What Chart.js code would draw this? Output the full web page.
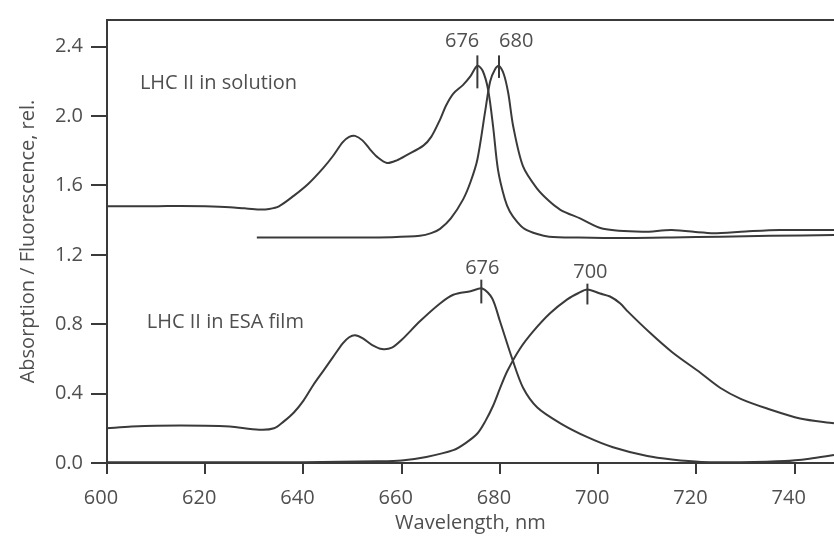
<!DOCTYPE html>
<html>
<head>
<meta charset="utf-8">
<script src="https://cdn.jsdelivr.net/npm/chart.js@4.4.1/dist/chart.umd.min.js"></script>
<style>
  html, body { margin: 0; padding: 0; background: #fff; }
  canvas { display: block; }
</style>
</head>
<body>
<canvas id="chart" width="834" height="536"></canvas>
<script>
// LHC II en solución: absorción
const absSolWl  = [600, 605, 610, 615, 620, 625, 628, 631, 633, 635, 638, 641, 644, 646, 648, 649.3, 650.5, 652, 653.5, 655, 657, 659, 661, 664.4, 666, 667.8, 669, 670.5, 672.5, 674, 675.4, 676.5, 677.6, 678.6, 679.6, 681, 682, 683.5, 685, 687.6, 690, 696, 705, 715, 725, 735, 748];
const absSolVal = [1.48, 1.48, 1.48, 1.482, 1.48, 1.475, 1.468, 1.462, 1.465, 1.48, 1.54, 1.61, 1.70, 1.77, 1.85, 1.88, 1.886, 1.86, 1.81, 1.765, 1.73, 1.745, 1.775, 1.83, 1.88, 1.98, 2.06, 2.13, 2.18, 2.23, 2.29, 2.26, 2.15, 1.94, 1.69, 1.52, 1.45, 1.39, 1.35, 1.32, 1.305, 1.30, 1.297, 1.30, 1.305, 1.31, 1.314];

// LHC II en solución: fluorescencia
const fluoSolWl  = [630.5, 640, 650, 658, 663.7, 666, 667.8, 670, 672.5, 674, 675.4, 677, 678, 679, 679.8, 680.8, 681.7, 682.7, 684.7, 687.6, 690, 692.3, 696.3, 701, 709, 715, 723, 730, 737, 748];
const fluoSolVal = [1.30, 1.30, 1.30, 1.302, 1.31, 1.325, 1.35, 1.41, 1.52, 1.62, 1.75, 2.03, 2.20, 2.27, 2.29, 2.24, 2.13, 1.94, 1.71, 1.58, 1.51, 1.46, 1.41, 1.35, 1.333, 1.343, 1.325, 1.335, 1.343, 1.343];

// LHC II en film ESA: absorción
const absFilmWl  = [600, 605, 610, 620, 625, 631, 634, 636, 638, 640, 642, 644, 646, 648, 649.3, 650.5, 652, 654, 656, 658, 660, 663.7, 667.8, 670.5, 674, 676.4, 678.4, 680, 682.5, 684.7, 687.6, 692.3, 697.8, 703, 710, 715, 721, 729, 738, 743, 748];
const absFilmVal = [0.20, 0.21, 0.215, 0.215, 0.21, 0.192, 0.20, 0.24, 0.29, 0.36, 0.45, 0.53, 0.61, 0.69, 0.725, 0.737, 0.72, 0.68, 0.657, 0.665, 0.71, 0.817, 0.92, 0.97, 0.99, 1.006, 0.95, 0.817, 0.60, 0.434, 0.32, 0.229, 0.149, 0.091, 0.04, 0.02, 0.006, 0.005, 0.011, 0.025, 0.046];

// LHC II en film ESA: fluorescencia
const fluoFilmWl  = [600, 620, 640, 655, 660, 665, 670.5, 673, 675.4, 677, 678.6, 680, 681.5, 684.1, 686.8, 690.2, 693.7, 696, 697.8, 700.4, 702.4, 704.5, 706, 710.6, 715, 720.8, 724.8, 729, 734.4, 741.1, 748];
const fluoFilmVal = [0.005, 0.005, 0.005, 0.01, 0.015, 0.035, 0.074, 0.115, 0.17, 0.24, 0.33, 0.43, 0.53, 0.66, 0.76, 0.863, 0.943, 0.98, 1.0, 0.977, 0.96, 0.92, 0.874, 0.749, 0.64, 0.52, 0.434, 0.37, 0.314, 0.257, 0.229];

// Marcas de los ejes
const xTicks = [600, 620, 640, 660, 680, 700, 720, 740];
const yTicks = [0.0, 0.4, 0.8, 1.2, 1.6, 2.0, 2.4];

const ink = '#3a3a3a';
const textColor = '#4f4f4f';
const fontFamily = "'Open Sans', sans-serif";

function pts(wl, val) {
  return wl.map((x, i) => ({ x: x, y: val[i] }));
}

function serie(label, wl, val) {
  return {
    label: label,
    data: pts(wl, val),
    borderColor: ink,
    borderWidth: 2,
    pointRadius: 0,
    fill: false,
    tension: 0.3
  };
}

// Textos dentro del gráfico, en coordenadas de datos
const notes = [
  { text: 'LHC II in solution', x: 606.7, y: 2.154, align: 'left' },
  { text: 'LHC II in ESA film', x: 608.1, y: 0.777, align: 'left' },
  { text: '676', x: 672.3, y: 2.40, align: 'center' },
  { text: '680', x: 683.3, y: 2.40, align: 'center' },
  { text: '676', x: 676.4, y: 1.09, align: 'center' },
  { text: '700', x: 698.4, y: 1.066, align: 'center' }
];

// Rayitas verticales en los máximos
const peakMarks = [
  { x: 675.4, from: 2.35, to: 2.16 },
  { x: 679.8, from: 2.35, to: 2.22 },
  { x: 676.2, from: 1.057, to: 0.92 },
  { x: 697.8, from: 1.034, to: 0.914 }
];

const annotate = {
  id: 'annotate',
  afterDatasetsDraw(chart) {
    const { ctx, chartArea, scales } = chart;
    const x = scales.x, y = scales.y;
    ctx.save();
    // línea superior del marco
    ctx.strokeStyle = ink;
    ctx.lineWidth = 2;
    ctx.beginPath();
    ctx.moveTo(chartArea.left, chartArea.top);
    ctx.lineTo(chartArea.right, chartArea.top);
    ctx.stroke();

    peakMarks.forEach(m => {
      const px = x.getPixelForValue(m.x);
      ctx.beginPath();
      ctx.moveTo(px, y.getPixelForValue(m.from));
      ctx.lineTo(px, y.getPixelForValue(m.to));
      ctx.stroke();
    });

    ctx.fillStyle = textColor;
    ctx.font = '20px ' + fontFamily;
    ctx.textBaseline = 'alphabetic';
    notes.forEach(n => {
      ctx.textAlign = n.align;
      ctx.fillText(n.text, x.getPixelForValue(n.x), y.getPixelForValue(n.y));
    });
    ctx.restore();
  }
};

const ctx = document.getElementById('chart').getContext('2d');

new Chart(ctx, {
  type: 'line',
  data: {
    datasets: [
      serie('Absorption (solution)', absSolWl, absSolVal),
      serie('Fluorescence (solution)', fluoSolWl, fluoSolVal),
      serie('Absorption (ESA film)', absFilmWl, absFilmVal),
      serie('Fluorescence (ESA film)', fluoFilmWl, fluoFilmVal)
    ]
  },
  options: {
    responsive: false,
    animation: false,
    devicePixelRatio: 1,
    layout: { padding: { top: 16, right: 0, left: 0, bottom: 0 } },
    plugins: {
      legend: { display: false },
      tooltip: { enabled: false }
    },
    scales: {
      x: {
        type: 'linear',
        min: 600,
        max: 748,
        afterBuildTicks: s => { s.ticks = xTicks.map(v => ({ value: v })); },
        afterFit: s => { s.height = 73; },
        ticks: {
          color: textColor,
          font: { family: fontFamily, size: 20 },
          padding: 12,
          labelOffset: -6,
          maxRotation: 0,
          autoSkip: false
        },
        grid: {
          display: true,
          drawOnChartArea: false,
          drawTicks: true,
          tickLength: 11,
          color: ink,
          lineWidth: 2
        },
        border: { display: true, color: ink, width: 2 },
        title: {
          display: true,
          text: 'Wavelength, nm',
          color: textColor,
          font: { family: fontFamily, size: 20 },
          padding: { top: 0, bottom: 1 }
        }
      },
      y: {
        type: 'linear',
        min: 0,
        max: 2.554,
        afterBuildTicks: s => { s.ticks = yTicks.map(v => ({ value: v })); },
        afterFit: s => { s.width = 107; },
        ticks: {
          color: textColor,
          font: { family: fontFamily, size: 20 },
          padding: 8,
          callback: v => v.toFixed(1)
        },
        grid: {
          display: true,
          drawOnChartArea: false,
          drawTicks: true,
          tickLength: 16,
          color: ink,
          lineWidth: 2
        },
        border: { display: true, color: ink, width: 2 },
        title: {
          display: true,
          text: 'Absorption / Fluorescence, rel.',
          color: textColor,
          font: { family: fontFamily, size: 20 },
          padding: { top: 16, bottom: 0 }
        }
      }
    }
  },
  plugins: [annotate]
});
</script>
</body>
</html>
